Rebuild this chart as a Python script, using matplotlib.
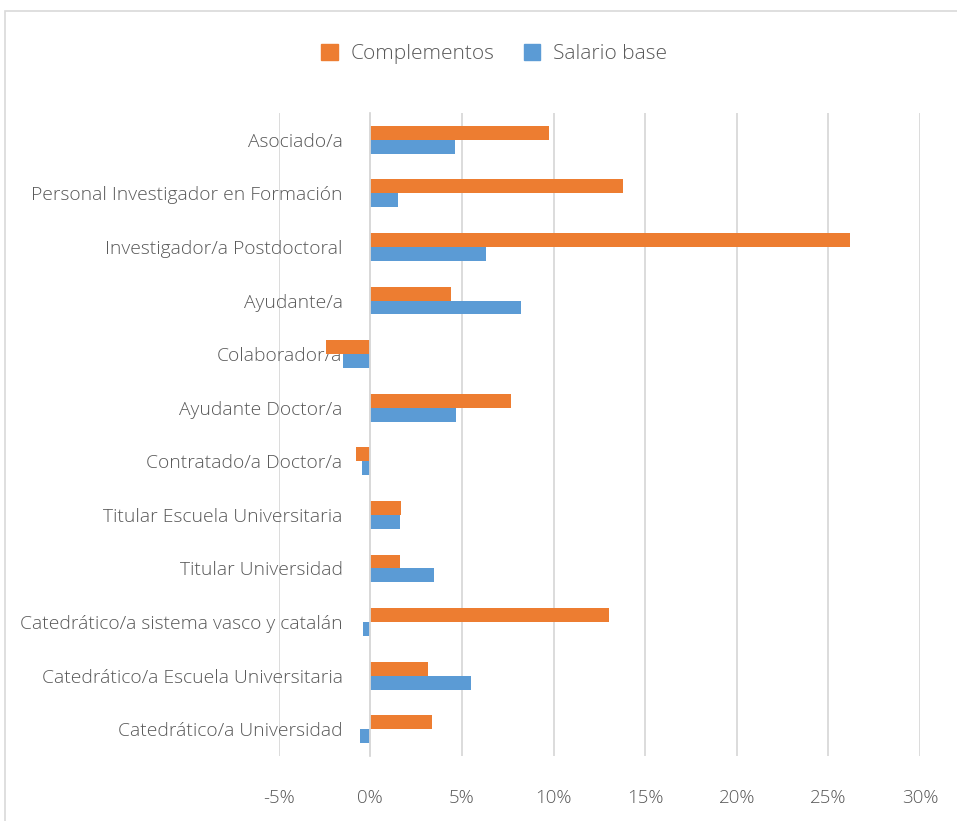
import matplotlib
matplotlib.use("Agg")
import matplotlib.pyplot as plt
from matplotlib.patches import Rectangle, Patch
from matplotlib.ticker import FuncFormatter, MultipleLocator
import numpy as np

categories = [
    "Asociado/a",
    "Personal Investigador en Formación",
    "Investigador/a Postdoctoral",
    "Ayudante/a",
    "Colaborador/a",
    "Ayudante Doctor/a",
    "Contratado/a Doctor/a",
    "Titular Escuela Universitaria",
    "Titular Universidad",
    "Catedrático/a sistema vasco y catalán",
    "Catedrático/a Escuela Universitaria",
    "Catedrático/a Universidad",
]
complementos = [9.75, 13.8, 26.2, 4.4, -2.4, 7.7, -0.76, 1.7, 1.6, 13.0, 3.15, 3.35]
salario_base = [4.6, 1.5, 6.3, 8.2, -1.5, 4.7, -0.47, 1.6, 3.5, -0.4, 5.5, -0.55]

ORANGE = "#ED7D31"
BLUE = "#5B9BD5"
TEXT = "#595959"
GRID = "#D9D9D9"

plt.rcParams['font.family'] = ['Open Sans', 'DejaVu Sans']
plt.rcParams['font.weight'] = 'light'

fig = plt.figure(figsize=(9.57, 8.21), dpi=100)
W, H = 957, 821
ax = fig.add_axes([278.7 / W, 1 - 756 / H, (920 - 278.7) / W, (756 - 113) / H])

y = np.arange(len(categories))
h = 0.26
ax.barh(y - h / 2, complementos, height=h, color=ORANGE, label="Complementos", zorder=1)
ax.barh(y + h / 2, salario_base, height=h, color=BLUE, label="Salario base", zorder=1)

ax.set_xlim(-5, 30)
ax.set_ylim(len(categories) - 0.5, -0.5)
ax.xaxis.set_major_locator(MultipleLocator(5))
ax.xaxis.set_major_formatter(FuncFormatter(lambda v, p: f"{v:.0f}%"))
ax.grid(axis="x", color=GRID, linewidth=1.3, zorder=0)
ax.set_axisbelow(True)

for s in ["top", "right", "bottom"]:
    ax.spines[s].set_visible(False)
ax.spines["left"].set_position(("data", 0))
ax.spines["left"].set_color(GRID)
ax.spines["left"].set_linewidth(1.3)

ax.set_yticks(y)
ax.set_yticklabels(categories)
ax.tick_params(axis="y", length=0, pad=20, labelsize=13.9, labelcolor=TEXT)
ax.tick_params(axis="x", length=0, pad=24, labelsize=13.5, labelcolor=TEXT)

handles = [Patch(color=ORANGE, label="Complementos"), Patch(color=BLUE, label="Salario base")]
fig.legend(handles=handles, loc="center", bbox_to_anchor=(494 / W, 1 - 54 / H), ncol=2,
           frameon=False, fontsize=15, labelcolor=TEXT, handlelength=0.8, handleheight=0.8,
           handletextpad=0.6, columnspacing=1.4)

fig.patches.append(Rectangle((5 / W, -0.01), (W - 2) / W, 1 - 11 / H + 0.01, transform=fig.transFigure,
                             fill=False, edgecolor="#D9D9D9", linewidth=1.2))

fig.savefig("out.png", dpi=100)
